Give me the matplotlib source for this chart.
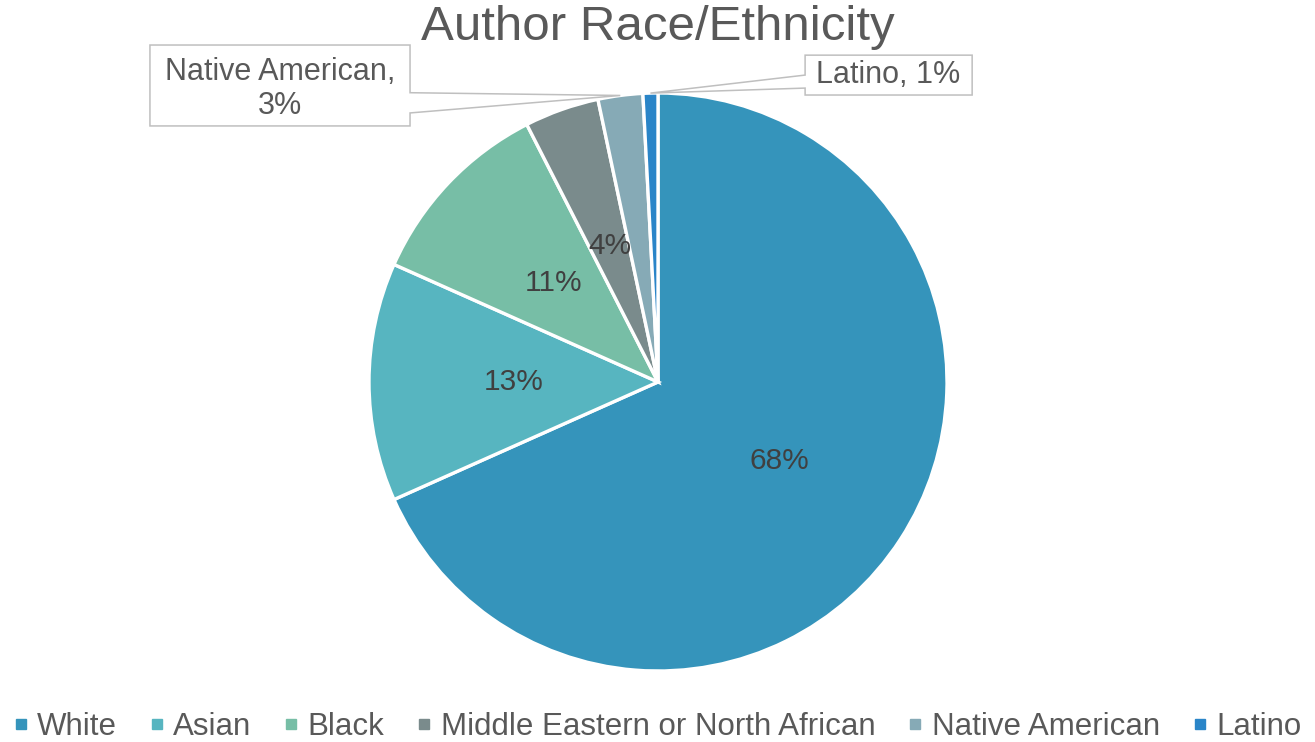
import numpy as np
import matplotlib
matplotlib.use('Agg')
import matplotlib.pyplot as plt
from matplotlib.lines import Line2D
from matplotlib.patches import Polygon

plt.rcParams['font.family'] = ['Liberation Sans', 'DejaVu Sans']

# data: author counts (out of 120)
categories = ['White', 'Asian', 'Black', 'Middle Eastern or North African',
              'Native American', 'Latino']
counts = [82, 16, 13, 5, 3, 1]
colors = ['#3594BB', '#57B5C0', '#77BEA6', '#7A8B8C', '#86AAB6', '#2A85C8']

total = sum(counts)
pcts = [int(100 * c / total + 0.5) for c in counts]   # excel style rounding
pct_labels = [f'{p}%' for p in pcts]

fig = plt.figure(figsize=(13.15, 7.42), dpi=100)
W, H = 1315, 742
cx, cy, r = 658, 382, 289
ax = fig.add_axes([(cx - r) / W, (H - cy - r) / H, 2 * r / W, 2 * r / H])

wedges, _ = ax.pie(counts, colors=colors, startangle=90, counterclock=False,
                   radius=1, wedgeprops=dict(edgecolor='white', linewidth=2.4))
ax.set_xlim(-1, 1)
ax.set_ylim(-1, 1)
ax.set_aspect('equal')
ax.axis('off')

# inside labels for the big slices
for w, lab in zip(wedges[:4], pct_labels[:4]):
    mid = np.deg2rad((w.theta1 + w.theta2) / 2)
    ax.text(0.5 * np.cos(mid), 0.5 * np.sin(mid), lab, ha='center', va='center',
            fontsize=21.5, color='#404040')

# callouts for the small slices
def tip(w):
    mid = np.deg2rad((w.theta1 + w.theta2) / 2)
    return (np.cos(mid), np.sin(mid))

box_kw = dict(facecolor='white', edgecolor='#BFBFBF', linewidth=1.1,
              zorder=5, clip_on=False)

# Native American, box on the left, pointer on its right side
x0, x1, y0, y1 = -1.758, -0.858, 0.886, 1.166
t = tip(wedges[4])
ax.add_patch(Polygon([(x0, y0), (x1, y0), (x1, 0.931), t, (x1, 1.001),
                      (x1, y1), (x0, y1)], **box_kw))
ax.text((x0 + x1) / 2, (y0 + y1) / 2 - 0.012, f'{categories[4]},\n{pct_labels[4]}',
        ha='center', va='center', fontsize=22, color='#595959', zorder=6,
        linespacing=1.2)

# Latino, box on the right, pointer on its left side
x0, x1, y0, y1 = 0.509, 1.087, 0.993, 1.131
t = tip(wedges[5])
ax.add_patch(Polygon([(x0, y0), (x1, y0), (x1, y1), (x0, y1), (x0, 1.062), t,
                      (x0, 1.017)], **box_kw))
ax.text((x0 + x1) / 2, (y0 + y1) / 2, f'{categories[5]}, {pct_labels[5]}',
        ha='center', va='center', fontsize=22, color='#595959', zorder=6)

fig.text(cx / W, 1 - 28 / H, 'Author Race/Ethnicity', ha='center', va='center',
         fontsize=35.5, color='#595959')

handles = [Line2D([], [], marker='s', linestyle='none', markersize=7,
                  markerfacecolor=c, markeredgecolor=c) for c in colors]
fig.legend(handles, categories, loc='center', bbox_to_anchor=(0.5, 1 - 727 / H),
           ncol=6, frameon=False, fontsize=22.5, labelcolor='#595959',
           handlelength=0.45, handletextpad=0.3, columnspacing=1.05,
           borderaxespad=0)

fig.savefig('out.png', dpi=100)
